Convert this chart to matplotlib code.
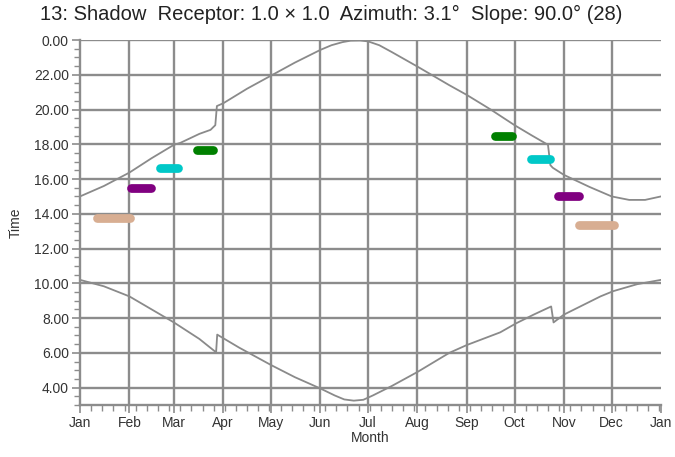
import matplotlib
matplotlib.use("Agg")
import matplotlib.pyplot as plt
from matplotlib.ticker import FixedLocator, MultipleLocator, FuncFormatter

plt.rcParams['font.family'] = ['Liberation Sans', 'DejaVu Sans']

# Month tick positions (day of year) and labels
month_days = [0, 31, 59, 90, 120, 151, 181, 212, 243, 273, 304, 334, 365]
month_labels = ["Jan", "Feb", "Mar", "Apr", "May", "Jun", "Jul", "Aug",
                "Sep", "Oct", "Nov", "Dec", "Jan"]
hour_ticks = [4, 6, 8, 10, 12, 14, 16, 18, 20, 22, 24]

# Sunset curve (hours), with DST jumps
sunset_days = [0, 15, 31, 45, 59, 63, 75, 82, 85, 86, 90, 105, 120, 135, 151,
               158, 165, 170, 176, 181, 188, 196, 212, 232, 243, 258, 273, 284,
               294, 295.5, 297, 304, 320, 334, 345, 355, 365]
sunset_hours = [15.0, 15.6, 16.37, 17.2, 17.97, 18.08, 18.6, 18.83, 19.1, 20.2,
                20.36, 21.2, 21.95, 22.7, 23.43, 23.7, 23.88, 23.96, 23.97,
                23.92, 23.7, 23.3, 22.47, 21.4, 20.84, 20.0, 19.1, 18.5, 17.97,
                16.8, 16.65, 16.24, 15.55, 15.0, 14.8, 14.8, 15.0]

# Sunrise curve (hours), with DST jumps
sunrise_days = [0, 15, 31, 45, 59, 75, 85.5, 86.2, 100, 110, 120, 135, 151,
                160, 166, 172, 178, 184, 196, 212, 232, 243, 264, 274, 285, 296,
                297.5, 304, 327, 335, 350, 365]
sunrise_hours = [10.2, 9.83, 9.25, 8.5, 7.75, 6.8, 6.03, 7.05, 6.3, 5.8, 5.3,
                 4.6, 3.95, 3.55, 3.32, 3.25, 3.3, 3.55, 4.1, 4.9, 6.0, 6.45,
                 7.18, 7.7, 8.2, 8.67, 7.75, 8.2, 9.25, 9.55, 9.95, 10.2]

# Shadow periods (start day, end day, hour, colour)
blob_start = [10.5, 32, 50.5, 73.5, 261, 283.5, 300, 313.5]
blob_end = [31.5, 44.5, 61.5, 83.5, 271.5, 295, 313.5, 335.5]
blob_hour = [13.77, 15.5, 16.64, 17.68, 18.46, 17.16, 15.0, 13.37]
blob_color = ["#D8AE92", "#800080", "#00C8C8", "#008000",
              "#008000", "#00C8C8", "#800080", "#D8AE92"]

W, H = 675, 457
fig = plt.figure(figsize=(W / 100, H / 100), dpi=100)
left, right, top, bottom = 80, 661, 40, 405
ax = fig.add_axes([left / W, 1 - bottom / H, (right - left) / W, (bottom - top) / H])

grid_c = "#8c8c8c"
for d in month_days[1:-1]:
    ax.axvline(d, color=grid_c, lw=1.7, zorder=1)
for h in hour_ticks:
    ax.axhline(h, color=grid_c, lw=1.7, zorder=1)

ax.plot(sunset_days, sunset_hours, color="#8a8a8a", lw=1.3, zorder=2)
ax.plot(sunrise_days, sunrise_hours, color="#8a8a8a", lw=1.3, zorder=2)

for s, e, h, c in zip(blob_start, blob_end, blob_hour, blob_color):
    ax.plot([s, e], [h, h], color=c, lw=6.3, solid_capstyle="round", zorder=3)

ax.set_xlim(0, 365)
ax.set_ylim(3.0, 24.0)
ax.xaxis.set_major_locator(FixedLocator(month_days))
ax.set_xticklabels(month_labels)
ax.xaxis.set_minor_locator(MultipleLocator(7))
ax.yaxis.set_major_locator(FixedLocator(hour_ticks))
ax.yaxis.set_minor_locator(MultipleLocator(0.5))
ax.yaxis.set_major_formatter(FuncFormatter(lambda v, p: "%.2f" % (v % 24)))

for sp in ["top", "right"]:
    ax.spines[sp].set_visible(False)
for sp in ["left", "bottom"]:
    ax.spines[sp].set_color(grid_c)
    ax.spines[sp].set_linewidth(1.7)

ax.tick_params(axis="both", which="major", length=6, width=1.2, color=grid_c,
               labelsize=10, labelcolor="#333333", pad=2)
ax.tick_params(axis="both", which="minor", length=4, width=1.0, color=grid_c)

ax.set_xlabel("Month", fontsize=10, color="#333333", labelpad=1)
ax.set_ylabel("Time", fontsize=10, color="#333333", labelpad=8)

fig.suptitle("13: Shadow  Receptor: 1.0 \u00d7 1.0  Azimuth: 3.1\u00b0  Slope: 90.0\u00b0 (28)",
             x=0.49, y=0.99, fontsize=14.5, color="#222222", va="top")

fig.savefig("out.png", dpi=100)
